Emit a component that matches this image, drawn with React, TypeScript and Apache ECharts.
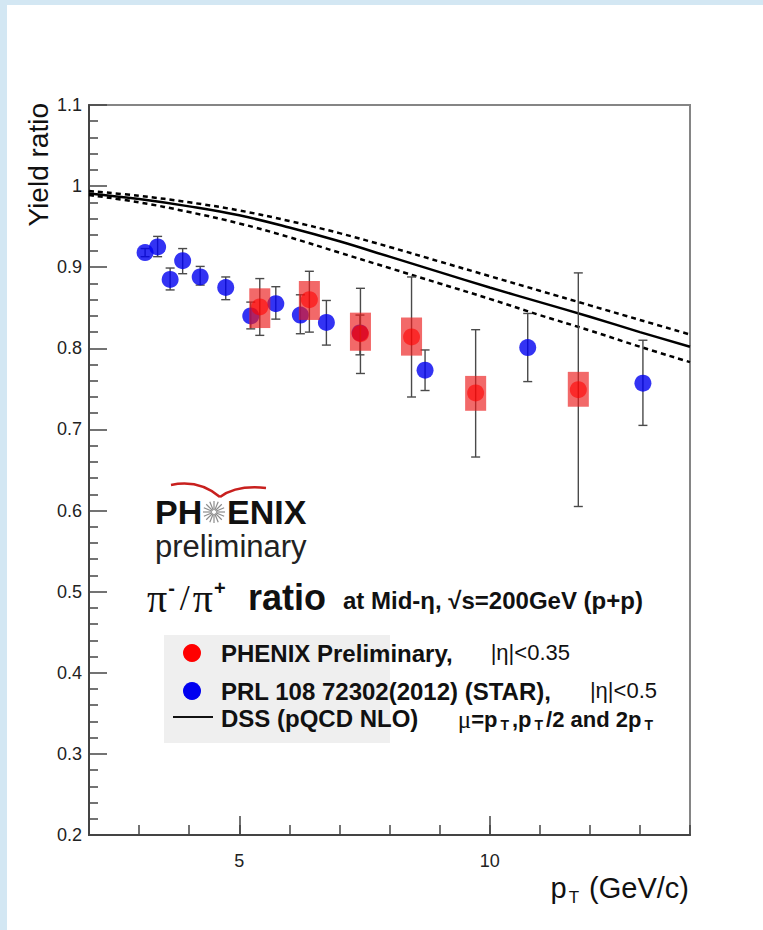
import React, { useEffect, useRef } from "react";
import * as echarts from "echarts";

// ---- data ----
const xTickLabels = [5, 10];
const yTickLabels = ["0.2", "0.3", "0.4", "0.5", "0.6", "0.7", "0.8", "0.9", "1", "1.1"];

const dssPt = [2, 3, 4, 5, 6, 7, 8, 9, 10, 11, 12, 13, 14];
const dssCentral = [0.991, 0.984, 0.975, 0.964, 0.949, 0.932, 0.913, 0.894, 0.875, 0.857, 0.839, 0.82, 0.802];
const dssUpper = [0.994, 0.988, 0.98, 0.97, 0.957, 0.942, 0.925, 0.907, 0.889, 0.871, 0.853, 0.835, 0.817];
const dssLower = [0.989, 0.98, 0.968, 0.954, 0.937, 0.918, 0.899, 0.88, 0.861, 0.841, 0.822, 0.802, 0.783];

const starPt = [3.12, 3.37, 3.62, 3.87, 4.22, 4.73, 5.23, 5.73, 6.22, 6.74, 7.41, 8.71, 10.76, 13.06];
const starRatio = [0.918, 0.925, 0.885, 0.908, 0.888, 0.875, 0.84, 0.855, 0.841, 0.832, 0.819, 0.773, 0.801, 0.757];
const starErrLo = [0.913, 0.913, 0.872, 0.892, 0.878, 0.86, 0.824, 0.836, 0.818, 0.804, 0.792, 0.748, 0.759, 0.705];
const starErrHi = [0.923, 0.938, 0.899, 0.923, 0.901, 0.888, 0.857, 0.876, 0.866, 0.859, 0.841, 0.798, 0.843, 0.81];

const phenixPt = [5.41, 6.4, 7.42, 8.44, 9.72, 11.77];
const phenixRatio = [0.851, 0.86, 0.818, 0.814, 0.745, 0.749];
const phenixStatLo = [0.816, 0.82, 0.769, 0.74, 0.666, 0.605];
const phenixStatHi = [0.886, 0.895, 0.874, 0.888, 0.823, 0.893];
const phenixSysLo = [0.825, 0.835, 0.797, 0.791, 0.723, 0.728];
const phenixSysHi = [0.874, 0.883, 0.844, 0.838, 0.766, 0.771];
const phenixBoxHalfWidth = 0.21;

const SANS = "'Liberation Sans', Arial, Helvetica, sans-serif";
const SERIF = "'Liberation Serif', 'Times New Roman', serif";

function txt(x: number, y: number, text: string, style: any, extra: any = {}) {
  const align = style.align || "left";
  const valign = style.verticalAlign || "middle";
  return {
    type: "text",
    x,
    y,
    ...extra,
    style: {
      text,
      fill: "#111",
      fontFamily: SANS,
      ...style,
      align,
      verticalAlign: valign,
      textAlign: align,
      textVerticalAlign: valign,
    },
  };
}

export default function App() {
  const ref = useRef<HTMLDivElement>(null);

  useEffect(() => {
    const chart = echarts.init(ref.current as HTMLDivElement, null, { renderer: "svg" });

    const errBar = (color: string) => (params: any, api: any) => {
      const x = api.value(0);
      const lo = api.coord([x, api.value(1)]);
      const hi = api.coord([x, api.value(2)]);
      const w = 4.5;
      const style = { stroke: color, lineWidth: 1.4 };
      return {
        type: "group",
        children: [
          { type: "line", shape: { x1: lo[0], y1: lo[1], x2: hi[0], y2: hi[1] }, style },
          { type: "line", shape: { x1: lo[0] - w, y1: lo[1], x2: lo[0] + w, y2: lo[1] }, style },
          { type: "line", shape: { x1: hi[0] - w, y1: hi[1], x2: hi[0] + w, y2: hi[1] }, style },
        ],
      };
    };

    const boxRender = (params: any, api: any) => {
      const x = api.value(0);
      const p1 = api.coord([x - phenixBoxHalfWidth, api.value(2)]);
      const p2 = api.coord([x + phenixBoxHalfWidth, api.value(1)]);
      return {
        type: "rect",
        shape: { x: p1[0], y: p1[1], width: p2[0] - p1[0], height: p2[1] - p1[1] },
        style: { fill: "rgba(236,28,28,0.66)" },
      };
    };

    // star burst in the PHENIX logo
    const starCx = 214;
    const starCy = 512;
    const starRays: any[] = [];
    for (let i = 0; i < 16; i++) {
      const a = (i * Math.PI) / 8;
      starRays.push({
        type: "line",
        shape: {
          x1: starCx + Math.cos(a) * 2,
          y1: starCy + Math.sin(a) * 2,
          x2: starCx + Math.cos(a) * 11,
          y2: starCy + Math.sin(a) * 11,
        },
        style: { stroke: "#8c8c8c", lineWidth: 1.2 },
      });
    }

    const option: any = {
      animation: false,
      backgroundColor: "#ffffff",
      grid: {
        left: 89,
        top: 105,
        width: 601,
        height: 730,
        show: true,
        borderColor: "#858585",
        borderWidth: 2,
        backgroundColor: "transparent",
      },
      xAxis: [
        {
          type: "value",
          min: 2,
          max: 14,
          interval: 1,
          position: "bottom",
          axisLine: { show: true, onZero: false, lineStyle: { color: "#444", width: 2 } },
          axisTick: { show: true, inside: true, length: 10, lineStyle: { color: "#444", width: 1.5 } },
          axisLabel: { show: false },
          splitLine: { show: false },
        },
        {
          type: "value",
          min: 2,
          max: 14,
          interval: 1,
          position: "bottom",
          axisLine: { show: false, onZero: false },
          axisTick: {
            show: true,
            inside: true,
            length: 19,
            customValues: xTickLabels,
            lineStyle: { color: "#444", width: 1.5 },
          },
          axisLabel: {
            show: true,
            margin: 17,
            customValues: xTickLabels,
            formatter: (v: number) =>
              xTickLabels.indexOf(Math.round(v)) >= 0 && Math.abs(v - Math.round(v)) < 1e-6 ? String(Math.round(v)) : "",
            color: "#222",
            fontSize: 18,
            fontFamily: SANS,
          },
          splitLine: { show: false },
        },
      ],
      yAxis: {
        type: "value",
        min: 0.2,
        max: 1.1,
        interval: 0.1,
        axisLine: { show: true, onZero: false, lineStyle: { color: "#444", width: 2 } },
        axisTick: { show: true, inside: true, length: 18, lineStyle: { color: "#444", width: 1.5 } },
        minorTick: { show: true, splitNumber: 5, length: 9, lineStyle: { color: "#444", width: 1.5 } },
        axisLabel: {
          margin: 7,
          color: "#222",
          fontSize: 18,
          fontFamily: SANS,
          formatter: (v: number) => {
            const i = Math.round((v - 0.2) * 10);
            return yTickLabels[i] ?? "";
          },
        },
        splitLine: { show: false },
        minorSplitLine: { show: false },
      },
      series: [
        {
          name: "DSS central",
          type: "line",
          xAxisIndex: 0,
          data: dssPt.map((x, i) => [x, dssCentral[i]]),
          showSymbol: false,
          smooth: 0.4,
          lineStyle: { color: "#000", width: 2.5 },
          z: 2,
        },
        {
          name: "DSS upper",
          type: "line",
          xAxisIndex: 0,
          data: dssPt.map((x, i) => [x, dssUpper[i]]),
          showSymbol: false,
          smooth: 0.4,
          lineStyle: { color: "#000", width: 2.5, type: [5, 4] },
          z: 2,
        },
        {
          name: "DSS lower",
          type: "line",
          xAxisIndex: 0,
          data: dssPt.map((x, i) => [x, dssLower[i]]),
          showSymbol: false,
          smooth: 0.4,
          lineStyle: { color: "#000", width: 2.5, type: [5, 4] },
          z: 2,
        },
        {
          name: "STAR err",
          type: "custom",
          xAxisIndex: 0,
          renderItem: errBar("#4a4a4a"),
          data: starPt.map((x, i) => [x, starErrLo[i], starErrHi[i]]),
          encode: { x: 0, y: [1, 2] },
          z: 3,
        },
        {
          name: "STAR",
          type: "scatter",
          xAxisIndex: 0,
          data: starPt.map((x, i) => [x, starRatio[i]]),
          symbolSize: 17,
          itemStyle: { color: "#0000f0" },
          z: 4,
        },
        {
          name: "PHENIX err",
          type: "custom",
          xAxisIndex: 0,
          renderItem: errBar("#4a4a4a"),
          data: phenixPt.map((x, i) => [x, phenixStatLo[i], phenixStatHi[i]]),
          encode: { x: 0, y: [1, 2] },
          z: 5,
        },
        {
          name: "PHENIX sys",
          type: "custom",
          xAxisIndex: 0,
          renderItem: boxRender,
          data: phenixPt.map((x, i) => [x, phenixSysLo[i], phenixSysHi[i]]),
          encode: { x: 0, y: [1, 2] },
          z: 6,
        },
        {
          name: "PHENIX",
          type: "scatter",
          xAxisIndex: 0,
          data: phenixPt.map((x, i) => [x, phenixRatio[i]]),
          symbolSize: 17,
          itemStyle: { color: "rgba(255,0,0,0.75)" },
          z: 7,
        },
      ],
      graphic: {
        elements: [
          // light blue frame of the page
          { type: "rect", shape: { x: 0, y: 0, width: 763, height: 5 }, style: { fill: "#d3e7f3" }, z: 100 },
          { type: "rect", shape: { x: 0, y: 0, width: 7, height: 930 }, style: { fill: "#d3e7f3" }, z: 100 },

          // axis titles
          txt(
            38,
            103,
            "Yield ratio",
            { fontSize: 28, align: "right", verticalAlign: "middle", fill: "#111" },
            { rotation: Math.PI / 2 }
          ),
          txt(689, 888, "{p|p}{s|T}{p| (GeV/c)}", {
            align: "right",
            verticalAlign: "middle",
            rich: {
              p: { fontSize: 29, fontFamily: SANS, fill: "#111", lineHeight: 36 },
              s: { fontSize: 17, fontFamily: SANS, fill: "#111", verticalAlign: "bottom", lineHeight: 36, padding: [20, 2, 0, 2] },
            },
          }),

          // PHENIX logo
          {
            type: "bezierCurve",
            shape: { x1: 171, y1: 485, cpx1: 190, cpy1: 481, cpx2: 207, cpy2: 486, x2: 220, y2: 497 },
            style: { stroke: "#c8201e", lineWidth: 2.5, fill: null },
          },
          {
            type: "bezierCurve",
            shape: { x1: 220, y1: 497, cpx1: 231, cpy1: 489, cpx2: 247, cpy2: 486, x2: 266, y2: 488 },
            style: { stroke: "#c8201e", lineWidth: 2.5, fill: null },
          },
          txt(155, 512, "PH", { fontSize: 34, fontWeight: "bold", fill: "#111", lineHeight: 24 }),
          ...starRays,
          txt(227, 512, "ENIX", { fontSize: 34, fontWeight: "bold", fill: "#111", lineHeight: 24 }),
          txt(155, 546, "preliminary", { fontSize: 31, fill: "#222", lineHeight: 26 }),

          // title line
          txt(147, 598, "{pi|π}{sup|-}{sl|/}{pi|π}{sup|+}", {
            verticalAlign: "middle",
            rich: {
              pi: { fontSize: 40, fontFamily: SERIF, fill: "#111", lineHeight: 40 },
              sl: { fontSize: 36, fontFamily: SERIF, fill: "#111", lineHeight: 40, padding: [0, 3, 0, 3] },
              sup: {
                fontSize: 20,
                fontFamily: SANS,
                fontWeight: "bold",
                fill: "#111",
                verticalAlign: "top",
                lineHeight: 40,
                padding: [0, 2, 16, 1],
              },
            },
          }),
          txt(248, 597, "ratio", { fontSize: 36, fontWeight: "bold", fill: "#111" }),
          txt(343, 600, "at Mid-η, √s=200GeV (p+p)", { fontSize: 24, fontWeight: "bold", fill: "#111" }),

          // legend
          { type: "rect", shape: { x: 164, y: 635, width: 226, height: 108 }, style: { fill: "#efefef" } },
          { type: "circle", shape: { cx: 192, cy: 653, r: 9 }, style: { fill: "#ff0000" } },
          { type: "circle", shape: { cx: 192, cy: 691, r: 9 }, style: { fill: "#0000f0" } },
          { type: "line", shape: { x1: 173, y1: 717, x2: 213, y2: 717 }, style: { stroke: "#111", lineWidth: 2 } },
          txt(221, 653, "PHENIX Preliminary,", { fontSize: 24, fontWeight: "bold", lineHeight: 28 }),
          txt(570, 652, "|η|<0.35", { fontSize: 22, align: "right", lineHeight: 28 }),
          txt(221, 691, "PRL 108 72302(2012) (STAR),", { fontSize: 24, fontWeight: "bold", lineHeight: 26 }),
          txt(657, 690, "|η|<0.5", { fontSize: 22, align: "right", lineHeight: 26 }),
          txt(221, 718, "DSS (pQCD NLO)", { fontSize: 24, fontWeight: "bold", lineHeight: 26 }),
          txt(656, 719, "{mu|μ}{b|=p}{s|T}{b|,p}{s|T}{b|/2 and 2p}{s|T}", {
            align: "right",
            verticalAlign: "middle",
            rich: {
              mu: { fontSize: 25, fontFamily: SERIF, fill: "#111", lineHeight: 26 },
              b: { fontSize: 22, fontFamily: SANS, fontWeight: "bold", fill: "#111", lineHeight: 26 },
              s: {
                fontSize: 14,
                fontFamily: SANS,
                fontWeight: "bold",
                fill: "#111",
                verticalAlign: "bottom",
                lineHeight: 26,
                padding: [16, 3, 0, 3],
              },
            },
          }),
        ],
      },
    };

    chart.setOption(option);
    return () => chart.dispose();
  }, []);

  return (
    <div
      ref={ref}
      style={{ position: "fixed", left: 0, top: 0, width: 763, height: 930, background: "#fff" }}
    />
  );
}
